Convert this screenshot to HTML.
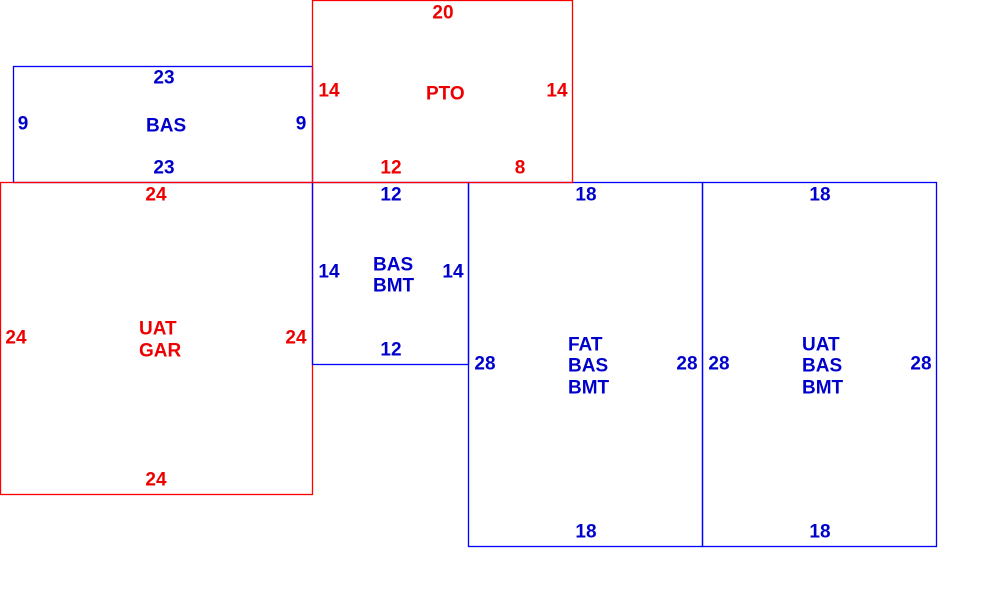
<!DOCTYPE html>
<html><head><style>body{margin:0;background:#fff}svg{display:block}text{font-family:"Liberation Sans",sans-serif;font-size:19px;font-weight:bold;dominant-baseline:central}</style></head>
<body>
<svg width="1000" height="615" xmlns="http://www.w3.org/2000/svg">
<g fill="none" stroke-width="1.3">
<rect x="13.5" y="66.5" width="299" height="116" stroke="#0000ff"/>
<rect x="0.5" y="182.5" width="312" height="312" stroke="#ff0000"/>
<rect x="312.5" y="182.5" width="156" height="182" stroke="#0000ff"/>
<rect x="468.5" y="182.5" width="234" height="364" stroke="#0000ff"/>
<rect x="702.5" y="182.5" width="234" height="364" stroke="#0000ff"/>
<rect x="312.5" y="0.5" width="260" height="182" stroke="#ff0000"/>
</g>
<g fill="#0000cc" text-anchor="middle">
<text x="164" y="78">23</text><text x="164" y="168">23</text>
<text x="23" y="124">9</text><text x="301" y="124">9</text>
<text x="391" y="195">12</text><text x="391" y="350">12</text>
<text x="329" y="272">14</text><text x="453" y="272">14</text>
<text x="586" y="195">18</text><text x="586" y="532">18</text>
<text x="485" y="364">28</text><text x="687" y="364">28</text>
<text x="820" y="195">18</text><text x="820" y="532">18</text>
<text x="719" y="364">28</text><text x="921" y="364">28</text>
</g>
<g fill="#0000cc" text-anchor="start">
<text x="146" y="126">BAS</text>
<text x="373" y="265">BAS</text><text x="373" y="286">BMT</text>
<text x="568" y="345">FAT</text><text x="568" y="366">BAS</text><text x="568" y="388">BMT</text>
<text x="802" y="345">UAT</text><text x="802" y="366">BAS</text><text x="802" y="388">BMT</text>
</g>
<g fill="#ee0000" text-anchor="middle">
<text x="443" y="13">20</text>
<text x="329" y="91">14</text><text x="557" y="91">14</text>
<text x="391" y="168">12</text><text x="520" y="168">8</text>
<text x="156" y="195">24</text><text x="156" y="480">24</text>
<text x="16" y="338">24</text><text x="296" y="338">24</text>
</g>
<g fill="#ee0000" text-anchor="start">
<text x="426" y="94">PTO</text>
<text x="139" y="329">UAT</text><text x="139" y="351">GAR</text>
</g>
</svg>
</body></html>
